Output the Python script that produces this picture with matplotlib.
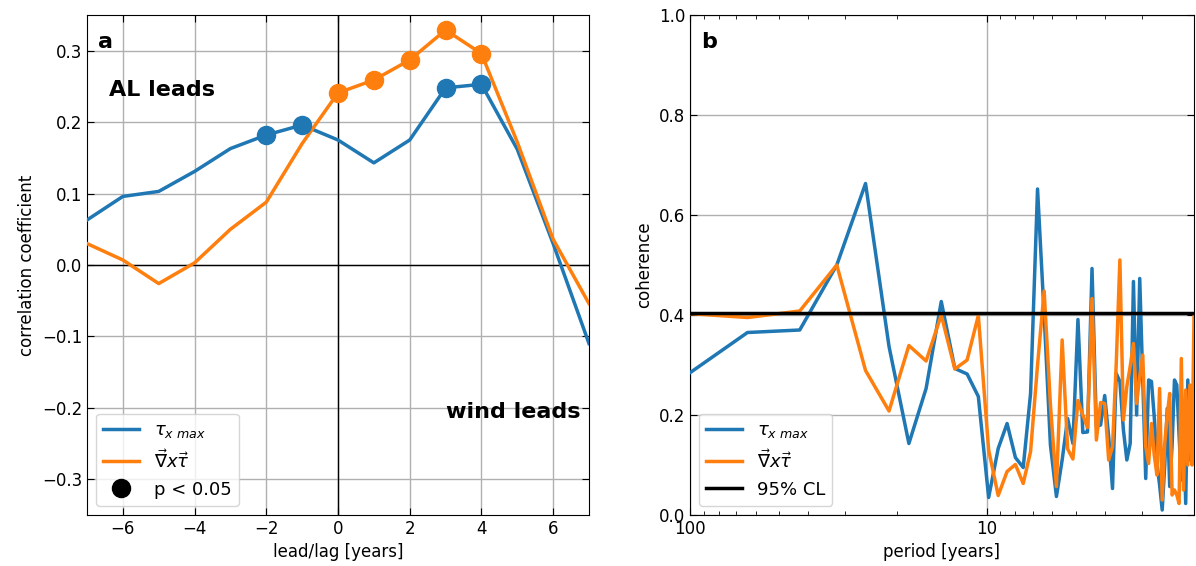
import matplotlib
matplotlib.use('Agg')
import matplotlib.pyplot as plt
from matplotlib.lines import Line2D
import numpy as np

# panel a: lagged correlation
lags = np.arange(-7, 8)
corr_tau = [0.063, 0.096, 0.103, 0.131, 0.163, 0.182, 0.196, 0.175, 0.143,
            0.175, 0.248, 0.253, 0.162, 0.030, -0.110]
corr_curl = [0.030, 0.007, -0.026, 0.003, 0.050, 0.088, 0.170, 0.241, 0.259,
             0.287, 0.329, 0.296, 0.172, 0.036, -0.054]
sig_tau = [-2, -1, 3, 4]
sig_curl = [0, 1, 2, 3, 4]

# panel b: coherence spectrum (harmonics k of a 128-yr record)
harmonic = np.arange(1, 65)
coh_tau = [0.24, 0.365, 0.37, 0.50, 0.663, 0.337, 0.143, 0.253, 0.427, 0.293,
           0.282, 0.237, 0.035, 0.133, 0.183, 0.115, 0.095, 0.243, 0.652, 0.40,
           0.14, 0.037, 0.11, 0.193, 0.143, 0.391, 0.165, 0.166, 0.493, 0.177,
           0.18, 0.239, 0.157, 0.053, 0.283, 0.267, 0.17, 0.11, 0.143, 0.467,
           0.20, 0.473, 0.27, 0.073, 0.27, 0.267, 0.197, 0.103, 0.06, 0.01,
           0.10, 0.213, 0.057, 0.14, 0.27, 0.26, 0.16, 0.07, 0.20, 0.023,
           0.27, 0.11, 0.21, 0.103]
coh_curl = [0.407, 0.395, 0.408, 0.50, 0.289, 0.208, 0.339, 0.308, 0.40, 0.292,
            0.31, 0.399, 0.13, 0.039, 0.087, 0.101, 0.063, 0.127, 0.30, 0.448,
            0.22, 0.057, 0.35, 0.132, 0.112, 0.229, 0.20, 0.175, 0.433, 0.15,
            0.225, 0.223, 0.11, 0.137, 0.303, 0.51, 0.19, 0.257, 0.297, 0.343,
            0.223, 0.277, 0.32, 0.137, 0.103, 0.183, 0.12, 0.08, 0.253, 0.03,
            0.143, 0.20, 0.243, 0.04, 0.05, 0.04, 0.023, 0.313, 0.05, 0.25,
            0.10, 0.26, 0.10, 0.397]
record_len = 128
cl95 = 0.405

blue = '#1f77b4'
orange = '#ff7f0e'
lab_tau = r'$\tau_{x\ max}$'
lab_curl = r'$\vec{\nabla}x\vec{\tau}$'

plt.rcParams['font.size'] = 12

fig = plt.figure(figsize=(11.96, 5.66), dpi=100)
ax1 = fig.add_axes([87/1196, 51/566, 502/1196, 500/566])
ax2 = fig.add_axes([690/1196, 51/566, 504/1196, 500/566])

# ---- panel a
ax1.plot(lags, corr_tau, color=blue, lw=2.5, zorder=3)
ax1.plot(lags, corr_curl, color=orange, lw=2.5, zorder=3)
idx_t = [list(lags).index(l) for l in sig_tau]
idx_c = [list(lags).index(l) for l in sig_curl]
ax1.plot(sig_tau, [corr_tau[i] for i in idx_t], 'o', color=blue, ms=13, zorder=4)
ax1.plot(sig_curl, [corr_curl[i] for i in idx_c], 'o', color=orange, ms=13, zorder=4)
ax1.axhline(0, color='k', lw=1, zorder=2)
ax1.axvline(0, color='k', lw=1, zorder=2)
ax1.set_xlim(-7, 7)
ax1.set_ylim(-0.35, 0.35)
ax1.set_xticks([-6, -4, -2, 0, 2, 4, 6])
ax1.set_yticks([-0.3, -0.2, -0.1, 0.0, 0.1, 0.2, 0.3])
ax1.grid(True, color='#b0b0b0', lw=1)
ax1.tick_params(direction='in', top=True, right=True, length=5)
ax1.set_xlabel('lead/lag [years]')
ax1.set_ylabel('correlation coefficient')
ax1.text(0.022, 0.965, 'a', transform=ax1.transAxes, fontsize=16,
         fontweight='bold', va='top')
ax1.text(-4.9, 0.245, 'AL leads', fontsize=16, fontweight='bold',
         ha='center', va='center')
ax1.text(4.9, -0.206, 'wind leads', fontsize=16, fontweight='bold',
         ha='center', va='center')
handles = [Line2D([], [], color=blue, lw=2.5),
           Line2D([], [], color=orange, lw=2.5),
           Line2D([], [], color='k', marker='o', ls='none', ms=13)]
ax1.legend(handles, [lab_tau, lab_curl, 'p < 0.05'], loc='lower left',
           fontsize=13)

# ---- panel b
period = record_len / harmonic
ax2.plot(period, coh_tau, color=blue, lw=2.5, label=lab_tau, zorder=3)
ax2.plot(period, coh_curl, color=orange, lw=2.5, label=lab_curl, zorder=3)
ax2.axhline(cl95, color='k', lw=2.5, label='95% CL', zorder=4)
ax2.set_xscale('log')
ax2.set_xlim(100, 2)
ax2.set_ylim(0, 1)
ax2.set_xticks([100, 10])
ax2.set_xticklabels(['100', '10'])
ax2.set_yticks([0, 0.2, 0.4, 0.6, 0.8, 1.0])
ax2.grid(True, which='major', color='#b0b0b0', lw=1)
ax2.tick_params(which='both', direction='in', top=True, right=True)
ax2.tick_params(which='major', length=5)
ax2.tick_params(which='minor', length=3)
ax2.set_xlabel('period [years]')
ax2.set_ylabel('coherence')
ax2.text(0.022, 0.965, 'b', transform=ax2.transAxes, fontsize=16,
         fontweight='bold', va='top')
ax2.legend(loc='lower left', fontsize=13)

fig.savefig('out.png', dpi=100)
